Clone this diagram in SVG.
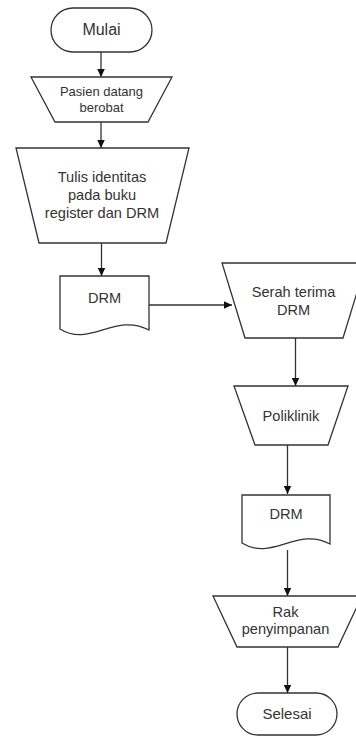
<svg xmlns="http://www.w3.org/2000/svg" width="356" height="737" viewBox="0 0 356 737">
<style>
.s{fill:#fff;stroke:#333;stroke-width:1.3;stroke-linejoin:miter}
.t{font-family:"Liberation Sans",Arial,sans-serif;font-size:14.6px;fill:#333;text-anchor:middle}
.c{fill:none;stroke:#333;stroke-width:1.3}
</style>
<defs>
<marker id="ah" markerUnits="userSpaceOnUse" markerWidth="9" markerHeight="8" refX="8.5" refY="4" orient="auto">
<path d="M0,0 L8.5,4 L0,8 z" fill="#111"/>
</marker>
</defs>
<rect width="356" height="737" fill="#fff"/>
<g id="connectors">
<line class="c" x1="101" y1="52" x2="101" y2="77" marker-end="url(#ah)"/>
<line class="c" x1="101" y1="122" x2="101" y2="148" marker-end="url(#ah)"/>
<line class="c" x1="101.5" y1="243" x2="101.5" y2="276" marker-end="url(#ah)"/>
<line class="c" x1="147" y1="305" x2="232" y2="305" marker-end="url(#ah)"/>
<line class="c" x1="295.5" y1="338" x2="295.5" y2="386" marker-end="url(#ah)"/>
<line class="c" x1="287.5" y1="445" x2="287.5" y2="494" marker-end="url(#ah)"/>
<line class="c" x1="287.5" y1="550" x2="287.5" y2="596" marker-end="url(#ah)"/>
<line class="c" x1="287.5" y1="647" x2="287.5" y2="693" marker-end="url(#ah)"/>
</g>
<g id="mulai">
<rect class="s" x="51" y="8" width="101" height="44" rx="22" ry="22"/>
<text class="t" x="101.5" y="35" style="font-size:16px">Mulai</text>
</g>
<g id="pasien">
<polygon class="s" points="31,77 172,77 148,122 55,122"/>
<text class="t" x="101.5" y="96" style="font-size:13px">Pasien datang</text>
<text class="t" x="101.5" y="112" style="font-size:13px">berobat</text>
</g>
<g id="tulis">
<polygon class="s" points="16,148 189,148 166,243 39,243"/>
<text class="t" x="102" y="182">Tulis identitas</text>
<text class="t" x="102" y="200">pada buku</text>
<text class="t" x="102" y="218">register dan DRM</text>
</g>
<g id="drm1">
<path class="s" d="M60,276 L149,276 L149,330 C115,312 90,348 60,329 Z"/>
<text class="t" x="104.5" y="303">DRM</text>
</g>
<g id="serah">
<polygon class="s" points="222,263 366,263 343,338 245,338"/>
<text class="t" x="293.5" y="297">Serah terima</text>
<text class="t" x="293.5" y="315">DRM</text>
</g>
<g id="poliklinik">
<polygon class="s" points="234,386 348,386 328,445 255,445"/>
<text class="t" x="291" y="421">Poliklinik</text>
</g>
<g id="drm2">
<path class="s" d="M242,495 L330,495 L330,544 C297,526 272,562 242,543 Z"/>
<text class="t" x="286" y="519">DRM</text>
</g>
<g id="rak">
<polygon class="s" points="213,596 362,596 338,647 237,647"/>
<text class="t" x="285.5" y="617">Rak</text>
<text class="t" x="285.5" y="634">penyimpanan</text>
</g>
<g id="selesai">
<rect class="s" x="237" y="693" width="100" height="42" rx="21" ry="21"/>
<text class="t" x="287" y="719" style="font-size:15px">Selesai</text>
</g>
</svg>
